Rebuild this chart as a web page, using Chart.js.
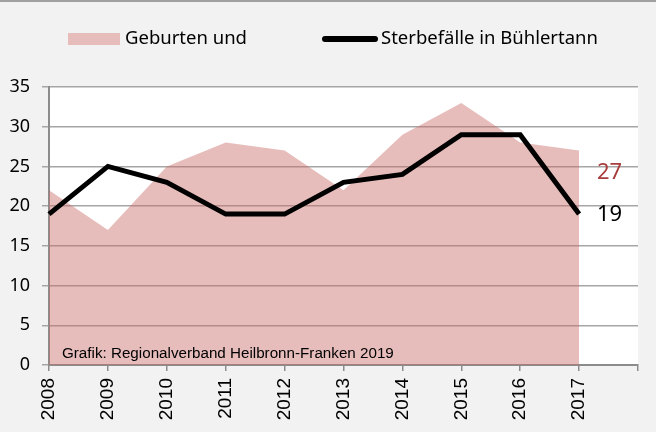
<!DOCTYPE html>
<html>
<head>
<meta charset="utf-8">
<script src="https://cdn.jsdelivr.net/npm/chart.js@4/dist/chart.umd.min.js"></script>
<style>
  html, body { margin: 0; padding: 0; background: #f2f2f2; }
  canvas { display: block; }
</style>
</head>
<body>
<canvas id="c" width="656" height="432"></canvas>
<script>
const years = ['2008', '2009', '2010', '2011', '2012', '2013', '2014', '2015', '2016', '2017'];
const xLabels = years.concat(['']);
const births = [22, 17, 25, 28, 27, 22, 29, 33, 28, 27];
const deaths = [19, 25, 23, 19, 19, 23, 24, 29, 29, 19];
const seriesNames = ['Geburten und', 'Sterbefälle in Bühlertann'];
const yMin = 0, yMax = 35, yStep = 5;
const creditText = 'Grafik: Regionalverband Heilbronn-Franken 2019';

const AREA_SOLID = '#e6bdbb';
const AREA_FILL = 'rgba(199,108,104,0.45)';
const GRID = '#a6a6a6';
const AXIS = '#8c8c8c';

const bgPlugin = {
  id: 'bg',
  beforeDraw(chart) {
    const { ctx, chartArea: a } = chart;
    ctx.save();
    ctx.fillStyle = '#f2f2f2';
    ctx.fillRect(0, 0, chart.width, chart.height);
    ctx.fillStyle = '#ffffff';
    ctx.fillRect(a.left, a.top, a.right - a.left, a.bottom - a.top);
    ctx.fillStyle = '#a0a0a0';
    ctx.fillRect(0, 0, chart.width, 2);
    ctx.restore();
  }
};

const decoPlugin = {
  id: 'deco',
  afterDatasetsDraw(chart) {
    const { ctx, chartArea: a } = chart;
    const ys = chart.scales.y;
    ctx.save();
    ctx.fillStyle = '#000';
    ctx.font = '15.2px "Liberation Sans", Arial, sans-serif';
    ctx.textBaseline = 'alphabetic';
    ctx.textAlign = 'left';
    ctx.fillText(creditText, a.left + 13, a.bottom - 7);
    ctx.font = '22px "Noto Sans", sans-serif';
    ctx.textBaseline = 'middle';
    const bLast = births[births.length - 1];
    const dLast = deaths[deaths.length - 1];
    ctx.fillStyle = '#a83c3c';
    ctx.fillText(String(bLast), 597, ys.getPixelForValue(bLast) + 22);
    ctx.fillStyle = '#000';
    ctx.fillText(String(dLast), 597, ys.getPixelForValue(dLast) + 1);
    ctx.restore();
  },
  afterDraw(chart) {
    const { ctx } = chart;
    ctx.save();
    ctx.fillStyle = AREA_SOLID;
    ctx.fillRect(68, 33, 52, 12);
    ctx.font = '18.5px "Noto Sans", sans-serif';
    ctx.textBaseline = 'middle';
    ctx.fillStyle = '#000';
    ctx.fillText(seriesNames[0], 125, 39);
    ctx.strokeStyle = '#000';
    ctx.lineWidth = 6;
    ctx.lineCap = 'round';
    ctx.beginPath();
    ctx.moveTo(325, 39);
    ctx.lineTo(375, 39);
    ctx.stroke();
    ctx.fillText(seriesNames[1], 381, 39);
    ctx.restore();
  }
};

new Chart(document.getElementById('c'), {
  type: 'line',
  data: {
    labels: xLabels,
    datasets: [
      {
        label: seriesNames[1],
        data: deaths,
        borderColor: '#000',
        borderWidth: 5,
        pointRadius: 0,
        fill: false,
        tension: 0,
        order: 0,
        borderJoinStyle: 'miter'
      },
      {
        label: seriesNames[0],
        data: births,
        borderWidth: 0,
        borderColor: 'rgba(0,0,0,0)',
        backgroundColor: AREA_FILL,
        pointRadius: 0,
        fill: 'origin',
        tension: 0,
        order: 1
      }
    ]
  },
  options: {
    responsive: false,
    animation: false,
    devicePixelRatio: 1,
    layout: { padding: { top: 87, right: 18, left: 0, bottom: 0 } },
    plugins: { legend: { display: false }, tooltip: { enabled: false } },
    scales: {
      x: {
        type: 'category',
        offset: false,
        grid: { drawOnChartArea: false, drawTicks: true, tickLength: 6, color: AXIS, lineWidth: 1.5 },
        border: { color: AXIS, width: 2 },
        ticks: {
          autoSkip: false, minRotation: 90, maxRotation: 90,
          font: { family: '"Liberation Sans", Arial, sans-serif', size: 19 },
          color: '#000', padding: 7
        },
        afterFit(s) { s.height = 67; s.paddingLeft = 0; s.paddingRight = 0; }
      },
      y: {
        min: yMin, max: yMax,
        grid: { color: GRID, lineWidth: 1.5, tickLength: 7 },
        border: { color: AXIS, width: 2 },
        ticks: {
          stepSize: yStep,
          font: { family: '"Noto Sans", sans-serif', size: 18 },
          color: '#000', padding: 12
        },
        afterFit(s) { s.width = 49; s.paddingTop = 0; s.paddingBottom = 0; }
      }
    }
  },
  plugins: [bgPlugin, decoPlugin]
});
</script>
</body>
</html>
